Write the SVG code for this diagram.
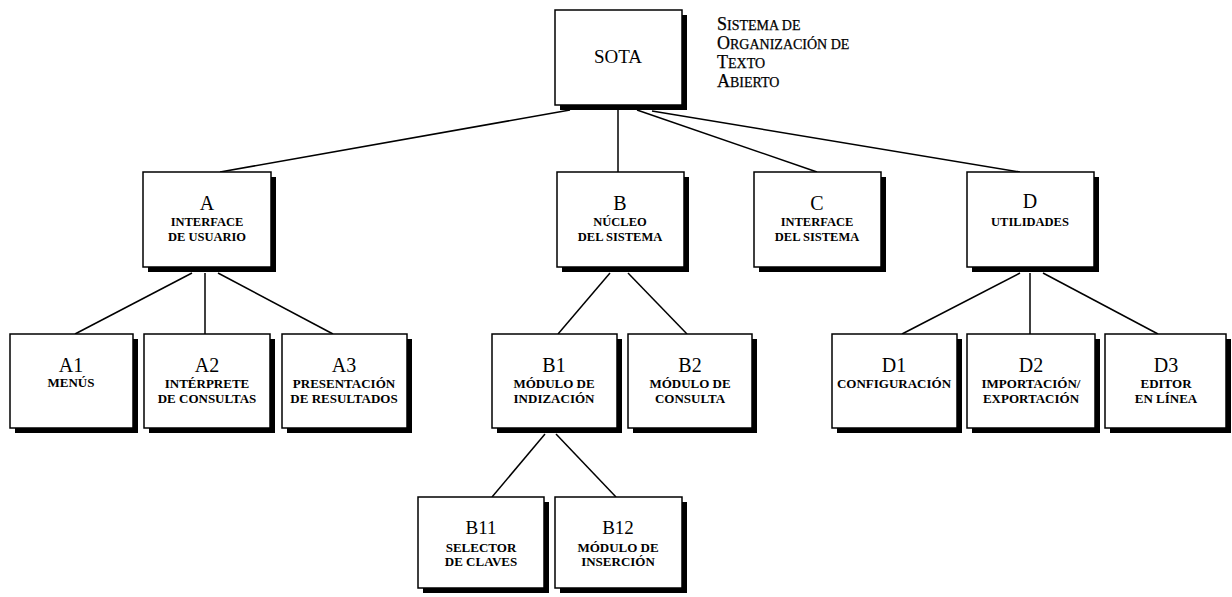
<svg xmlns="http://www.w3.org/2000/svg" width="1232" height="597" viewBox="0 0 1232 597">
<style>
  .sh { fill: #000; }
  .bx { fill: #fff; stroke: #000; stroke-width: 1.5; }
  .id { font-family: "Liberation Serif", serif; font-size: 20px; fill: #000; text-anchor: middle; }
  .sub { font-family: "Liberation Serif", serif; font-size: 12.5px; font-weight: bold; fill: #000; text-anchor: middle; }
  .sub2 { font-family: "Liberation Serif", serif; font-size: 13px; font-weight: bold; fill: #000; text-anchor: middle; }
  .ttl { font-family: "Liberation Serif", serif; font-size: 14px; fill: #000; stroke: #000; stroke-width: 0.25; }
  .big { font-size: 18px; }
  .cn line { stroke: #000; stroke-width: 1.5; fill: none; }
</style>
<rect width="1232" height="597" fill="#fff"/>

<g id="connectors" class="cn">
  <line x1="570" y1="110" x2="220" y2="172"/>
  <line x1="618" y1="110" x2="618" y2="172"/>
  <line x1="637" y1="110" x2="817" y2="172"/>
  <line x1="652" y1="111" x2="1020" y2="172"/>
  <line x1="192" y1="273" x2="75" y2="334"/>
  <line x1="205" y1="273" x2="205" y2="334"/>
  <line x1="218" y1="273" x2="333" y2="334"/>
  <line x1="610" y1="273" x2="558" y2="334"/>
  <line x1="628" y1="273" x2="687" y2="334"/>
  <line x1="1020" y1="273" x2="902" y2="334"/>
  <line x1="1030" y1="273" x2="1030" y2="334"/>
  <line x1="1043" y1="273" x2="1158" y2="334"/>
  <line x1="545" y1="434" x2="492" y2="497"/>
  <line x1="556" y1="434" x2="616" y2="497"/>
</g>

<g id="SOTA">
  <rect class="sh" x="560" y="15" width="127" height="95"/>
  <rect class="bx" x="555" y="10" width="127" height="95"/>
  <text class="id" x="618" y="63" style="font-size:19px">SOTA</text>
</g>

<g id="title">
  <text class="ttl" x="717" y="30"><tspan class="big">S</tspan>ISTEMA DE</text>
  <text class="ttl" x="717" y="49"><tspan class="big">O</tspan>RGANIZACIÓN DE</text>
  <text class="ttl" x="717" y="68"><tspan class="big">T</tspan>EXTO</text>
  <text class="ttl" x="717" y="87"><tspan class="big">A</tspan>BIERTO</text>
</g>

<g id="A">
  <rect class="sh" x="148" y="177" width="128" height="95"/>
  <rect class="bx" x="143" y="172" width="128" height="95"/>
  <text class="id" x="207" y="210">A</text>
  <text class="sub" x="207" y="226">INTERFACE</text>
  <text class="sub" x="207" y="241">DE USUARIO</text>
</g>
<g id="B">
  <rect class="sh" x="562" y="177" width="127" height="95"/>
  <rect class="bx" x="557" y="172" width="127" height="95"/>
  <text class="id" x="620" y="210">B</text>
  <text class="sub" x="620" y="226">NÚCLEO</text>
  <text class="sub" x="620" y="241">DEL SISTEMA</text>
</g>
<g id="C">
  <rect class="sh" x="759" y="177" width="127" height="95"/>
  <rect class="bx" x="754" y="172" width="127" height="95"/>
  <text class="id" x="817" y="210">C</text>
  <text class="sub" x="817" y="226">INTERFACE</text>
  <text class="sub" x="817" y="241">DEL SISTEMA</text>
</g>
<g id="D">
  <rect class="sh" x="972" y="177" width="127" height="95"/>
  <rect class="bx" x="967" y="172" width="127" height="95"/>
  <text class="id" x="1030" y="208">D</text>
  <text class="sub" x="1030" y="226">UTILIDADES</text>
</g>

<g id="A1">
  <rect class="sh" x="15" y="339" width="123" height="94"/>
  <rect class="bx" x="10" y="334" width="123" height="94"/>
  <text class="id" x="71" y="372">A1</text>
  <text class="sub2" x="71" y="387">MENÚS</text>
</g>
<g id="A2">
  <rect class="sh" x="149" y="339" width="126" height="94"/>
  <rect class="bx" x="144" y="334" width="126" height="94"/>
  <text class="id" x="207" y="372">A2</text>
  <text class="sub2" x="207" y="388">INTÉRPRETE</text>
  <text class="sub2" x="207" y="403">DE CONSULTAS</text>
</g>
<g id="A3">
  <rect class="sh" x="287" y="339" width="125" height="94"/>
  <rect class="bx" x="282" y="334" width="125" height="94"/>
  <text class="id" x="344" y="372">A3</text>
  <text class="sub2" x="344" y="388">PRESENTACIÓN</text>
  <text class="sub2" x="344" y="403">DE RESULTADOS</text>
</g>
<g id="B1">
  <rect class="sh" x="497" y="339" width="125" height="94"/>
  <rect class="bx" x="492" y="334" width="125" height="94"/>
  <text class="id" x="554" y="372">B1</text>
  <text class="sub2" x="554" y="388">MÓDULO DE</text>
  <text class="sub2" x="554" y="403">INDIZACIÓN</text>
</g>
<g id="B2">
  <rect class="sh" x="633" y="339" width="124" height="94"/>
  <rect class="bx" x="628" y="334" width="124" height="94"/>
  <text class="id" x="690" y="372">B2</text>
  <text class="sub2" x="690" y="388">MÓDULO DE</text>
  <text class="sub2" x="690" y="403">CONSULTA</text>
</g>
<g id="D1">
  <rect class="sh" x="837" y="339" width="125" height="94"/>
  <rect class="bx" x="832" y="334" width="125" height="94"/>
  <text class="id" x="894" y="372">D1</text>
  <text class="sub2" x="894" y="388">CONFIGURACIÓN</text>
</g>
<g id="D2">
  <rect class="sh" x="972" y="339" width="128" height="94"/>
  <rect class="bx" x="967" y="334" width="128" height="94"/>
  <text class="id" x="1031" y="372">D2</text>
  <text class="sub2" x="1031" y="388">IMPORTACIÓN/</text>
  <text class="sub2" x="1031" y="403">EXPORTACIÓN</text>
</g>
<g id="D3">
  <rect class="sh" x="1110" y="339" width="121" height="94"/>
  <rect class="bx" x="1105" y="334" width="121" height="94"/>
  <text class="id" x="1166" y="372">D3</text>
  <text class="sub2" x="1166" y="388">EDITOR</text>
  <text class="sub2" x="1166" y="403">EN LÍNEA</text>
</g>

<g id="B11">
  <rect class="sh" x="423" y="502" width="126" height="91"/>
  <rect class="bx" x="418" y="497" width="126" height="91"/>
  <text class="id" x="481" y="534" style="font-size:19px">B11</text>
  <text class="sub2" x="481" y="552">SELECTOR</text>
  <text class="sub2" x="481" y="566">DE CLAVES</text>
</g>
<g id="B12">
  <rect class="sh" x="560" y="502" width="127" height="91"/>
  <rect class="bx" x="555" y="497" width="127" height="91"/>
  <text class="id" x="618" y="534" style="font-size:19px">B12</text>
  <text class="sub2" x="618" y="552">MÓDULO DE</text>
  <text class="sub2" x="618" y="566">INSERCIÓN</text>
</g>
</svg>
